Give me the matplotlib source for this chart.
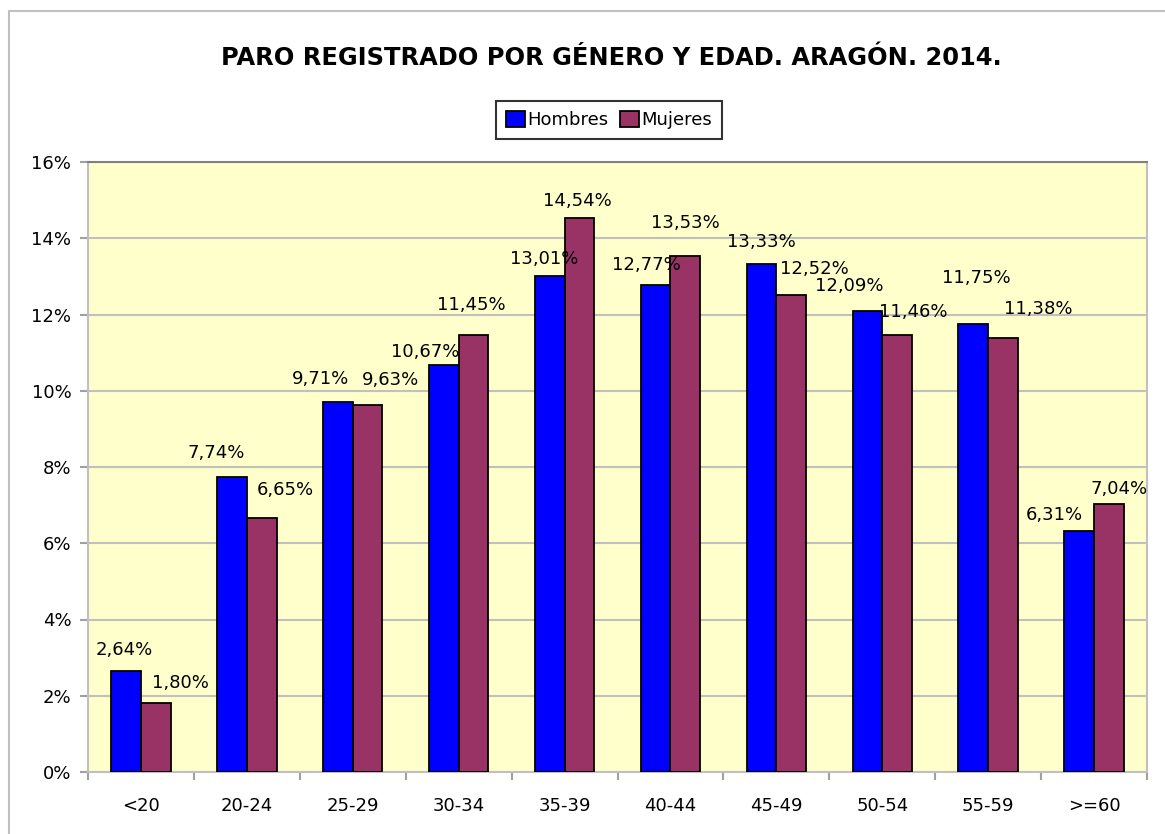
import matplotlib.pyplot as plt
from matplotlib.lines import Line2D
import numpy as np

categories = ['<20', '20-24', '25-29', '30-34', '35-39', '40-44', '45-49', '50-54', '55-59', '>=60']
hombres = [2.64, 7.74, 9.71, 10.67, 13.01, 12.77, 13.33, 12.09, 11.75, 6.31]
mujeres = [1.80, 6.65, 9.63, 11.45, 14.54, 13.53, 12.52, 11.46, 11.38, 7.04]
yticks = [0, 2, 4, 6, 8, 10, 12, 14, 16]

# label nudges (pixels) as placed in the original chart
off_h = [(-2, 21), (-16, 24), (-17, 23), (-19, 13), (-6, 17), (-9, 20), (0, 22), (-18, 25), (3, 46), (-25, 16)]
off_m = [(25, 20), (24, 28), (23, 25), (-2, 30), (-2, 17), (0, 33), (23, 26), (16, 23), (35, 29), (10, 15)]

title = 'PARO REGISTRADO POR GÉNERO Y EDAD. ARAGÓN. 2014.'

fig = plt.figure(figsize=(11.65, 8.34), dpi=100)
ax = fig.add_axes([88 / 1165, 62 / 834, (1147 - 88) / 1165, (772 - 162) / 834])
ax.set_facecolor('#FFFFCC')

x = np.arange(len(categories))
w = 0.28
b1 = ax.bar(x - w / 2, hombres, w, color='#0000FF', edgecolor='black', linewidth=1.3, label='Hombres', zorder=3)
b2 = ax.bar(x + w / 2, mujeres, w, color='#993366', edgecolor='black', linewidth=1.3, label='Mujeres', zorder=3)

def fmt(v):
    return ('%.2f%%' % v).replace('.', ',')

for bars, vals, offs in [(b1, hombres, off_h), (b2, mujeres, off_m)]:
    for r, v, (dx, dy) in zip(bars, vals, offs):
        ax.annotate(fmt(v), (r.get_x() + r.get_width() / 2, v), xytext=(dx, dy),
                    textcoords='offset pixels', ha='center', va='center', fontsize=13, zorder=4)

ax.set_xlim(-0.5, len(categories) - 0.5)
ax.set_ylim(0, 16)
ax.set_yticks(yticks)
ax.set_yticklabels(['%d%%' % t for t in yticks], fontsize=13)
ax.set_xticks(x)
ax.set_xticklabels(categories, fontsize=13)
ax.set_xticks(np.arange(-0.5, len(categories)), minor=True)
ax.tick_params(axis='x', which='major', length=0, pad=18)
ax.tick_params(axis='x', which='minor', length=6, color='#A0A0A0', width=1.5)
ax.tick_params(axis='y', length=6, color='#A0A0A0', width=1.5, pad=6)
ax.grid(axis='y', color='#C0C0C0', linewidth=1.5, zorder=1)
ax.set_axisbelow(True)
for s in ['left', 'bottom', 'right']:
    ax.spines[s].set_color('#C0C0C0')
    ax.spines[s].set_linewidth(1.5)
ax.spines['top'].set_color('#808080')
ax.spines['top'].set_linewidth(1.5)

fig.text(611 / 1165, 1 - 58 / 834, title, ha='center', va='center', fontsize=17.4, fontweight='bold')

leg = fig.legend(handles=[b1, b2], loc='center', bbox_to_anchor=(609 / 1165, 1 - 120 / 834),
                 ncol=2, fontsize=13, frameon=True, fancybox=False, handlelength=1.05, handleheight=1.0,
                 handletextpad=0.12, columnspacing=0.65, borderpad=0.55, borderaxespad=0, edgecolor='black')
leg.get_frame().set_linewidth(1.5)

# chart area border (top and left)
fig.add_artist(Line2D([9 / 1165, 9 / 1165, 1], [0, 1 - 11 / 834, 1 - 11 / 834],
                      transform=fig.transFigure, color='#C0C0C0', linewidth=1.5))

fig.savefig('out.png', dpi=100)
